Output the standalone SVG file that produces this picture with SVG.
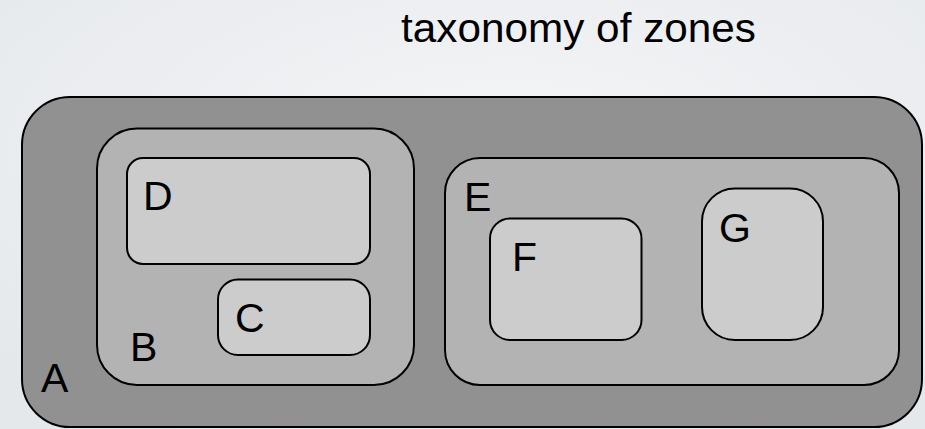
<svg xmlns="http://www.w3.org/2000/svg" width="925" height="429" viewBox="0 0 925 429">
  <defs>
    <radialGradient id="bg" cx="0.55" cy="0.35" r="0.75">
      <stop offset="0" stop-color="#f4f5f7"/>
      <stop offset="1" stop-color="#e5e8eb"/>
    </radialGradient>
    <style>
      .zone { stroke: #000; stroke-width: 2; }
      .l1 { fill: #919191; }
      .l2 { fill: #b3b3b3; }
      .l3 { fill: #cccccc; }
      .lbl { font-family: "Liberation Sans", Arial, sans-serif; font-size: 41px; fill: #000; }
    </style>
  </defs>

  <!-- backdrop -->
  <rect x="0" y="0" width="925" height="429" fill="url(#bg)"/>

  <text class="lbl" x="401" y="42" textLength="355" lengthAdjust="spacingAndGlyphs">taxonomy of zones</text>

  <!-- outermost zone -->
  <g id="zone-A">
    <rect class="zone l1" x="22" y="97" width="900" height="330" rx="48" ry="48"/>
    <text class="lbl" x="41" y="392">A</text>
  </g>

  <g id="zone-B">
    <rect class="zone l2" x="97" y="128.5" width="317" height="256.5" rx="40" ry="40"/>
    <text class="lbl" x="130" y="361">B</text>
  </g>

  <g id="zone-D">
    <rect class="zone l3" x="127" y="158" width="243" height="106" rx="16" ry="16"/>
    <text class="lbl" x="143" y="210">D</text>
  </g>

  <g id="zone-C">
    <rect class="zone l3" x="218" y="279.5" width="152" height="75.5" rx="20" ry="20"/>
    <text class="lbl" x="235" y="332">C</text>
  </g>

  <g id="zone-E">
    <rect class="zone l2" x="445" y="158" width="454" height="227" rx="35" ry="35"/>
    <text class="lbl" x="464" y="211">E</text>
  </g>

  <g id="zone-F">
    <rect class="zone l3" x="490" y="218.5" width="151.5" height="121.5" rx="20" ry="20"/>
    <text class="lbl" x="512" y="271">F</text>
  </g>

  <g id="zone-G">
    <rect class="zone l3" x="702" y="188.5" width="121" height="151.5" rx="33" ry="33"/>
    <text class="lbl" x="719" y="242">G</text>
  </g>

  <!-- nesting only; no connectors drawn -->
  <g id="connectors"/>
</svg>
